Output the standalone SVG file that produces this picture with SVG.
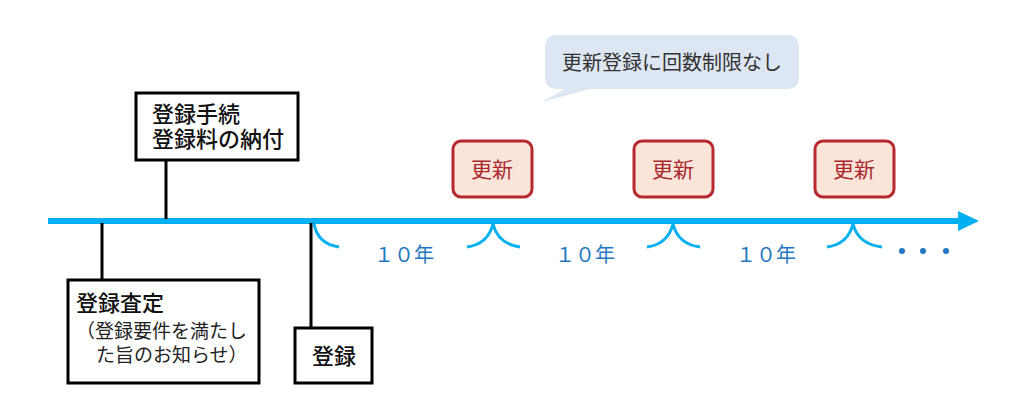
<svg xmlns="http://www.w3.org/2000/svg" width="1024" height="413" viewBox="0 0 1024 413">
<style>
.box{fill:#fff;stroke:#000;stroke-width:3}
.ren{fill:#fbe4d8;stroke:#b8292f;stroke-width:3}
.rt{font-family:"Liberation Sans","Noto Sans CJK JP",sans-serif;font-size:21px;fill:#a8282c;text-anchor:middle}
.bt{font-family:"Liberation Sans","Noto Sans CJK JP",sans-serif;font-size:22px;font-weight:500;fill:#111}
.nt{font-family:"Liberation Sans","Noto Sans CJK JP",sans-serif;font-size:19px;fill:#222}
.yr{font-family:"Liberation Sans","Noto Sans CJK JP",sans-serif;font-size:20px;fill:#1f78c1;text-anchor:middle}
.br{fill:none;stroke:#00b0f0;stroke-width:3}
.ln{stroke:#000;stroke-width:3}
</style>
<rect width="1024" height="413" fill="#fff"/>
<g id="bubble">
<path d="M557,35 H787 Q799,35 799,47 V77 Q799,89 787,89 H590 L542,102 L565,89 H557 Q545,89 545,77 V47 Q545,35 557,35 Z" fill="#dde7f3"/>
<text x="672" y="70" font-family="Liberation Sans,Noto Sans CJK JP,sans-serif" font-size="20" fill="#333" text-anchor="middle">更新登録に回数制限なし</text>
</g>
<g id="connectors">
<line x1="48" y1="221" x2="962" y2="221" stroke="#00b0f0" stroke-width="6"/>
<polygon points="958,211 979,221 958,231" fill="#00b0f0"/>
<line class="ln" x1="166" y1="160" x2="166" y2="219"/>
<line class="ln" x1="102" y1="223" x2="102" y2="280"/>
<line class="ln" x1="311" y1="223" x2="311" y2="328"/>
<path class="br" d="M314,224 Q318,244 339,247"/>
<path class="br" d="M467,247 Q488,244 493,224 Q498,244 520,247"/>
<path class="br" d="M647,247 Q668,244 673,224 Q678,244 700,247"/>
<path class="br" d="M827,247 Q848,244 853,224 Q858,244 882,247"/>
</g>
<g id="procedure">
<rect class="box" x="136" y="93" width="162" height="67"/>
<text class="bt" x="152" y="122">登録手続</text>
<text class="bt" x="152" y="147">登録料の納付</text>
</g>
<g id="assessment">
<rect class="box" x="68" y="280" width="191" height="103"/>
<text class="bt" x="76" y="311">登録査定</text>
<text class="nt" x="76" y="338">（登録要件を満たし</text>
<text class="nt" x="96" y="362">た旨のお知らせ）</text>
</g>
<g id="registration">
<rect class="box" x="295" y="328" width="77" height="55"/>
<text class="bt" x="312" y="364">登録</text>
</g>
<g id="renew1">
<rect class="ren" x="453" y="141" width="79" height="56" rx="8"/>
<text class="rt" x="492" y="177">更新</text>
</g>
<g id="renew2">
<rect class="ren" x="634" y="141" width="79" height="56" rx="8"/>
<text class="rt" x="673" y="177">更新</text>
</g>
<g id="renew3">
<rect class="ren" x="815" y="141" width="79" height="56" rx="8"/>
<text class="rt" x="854" y="177">更新</text>
</g>
<g id="years">
<text class="yr" x="404" y="262">１０年</text>
<text class="yr" x="585" y="262">１０年</text>
<text class="yr" x="766" y="262">１０年</text>
<circle cx="902" cy="251" r="3" fill="#1f78c1"/>
<circle cx="923" cy="251" r="3" fill="#1f78c1"/>
<circle cx="946" cy="251" r="3" fill="#1f78c1"/>
</g>
</svg>
